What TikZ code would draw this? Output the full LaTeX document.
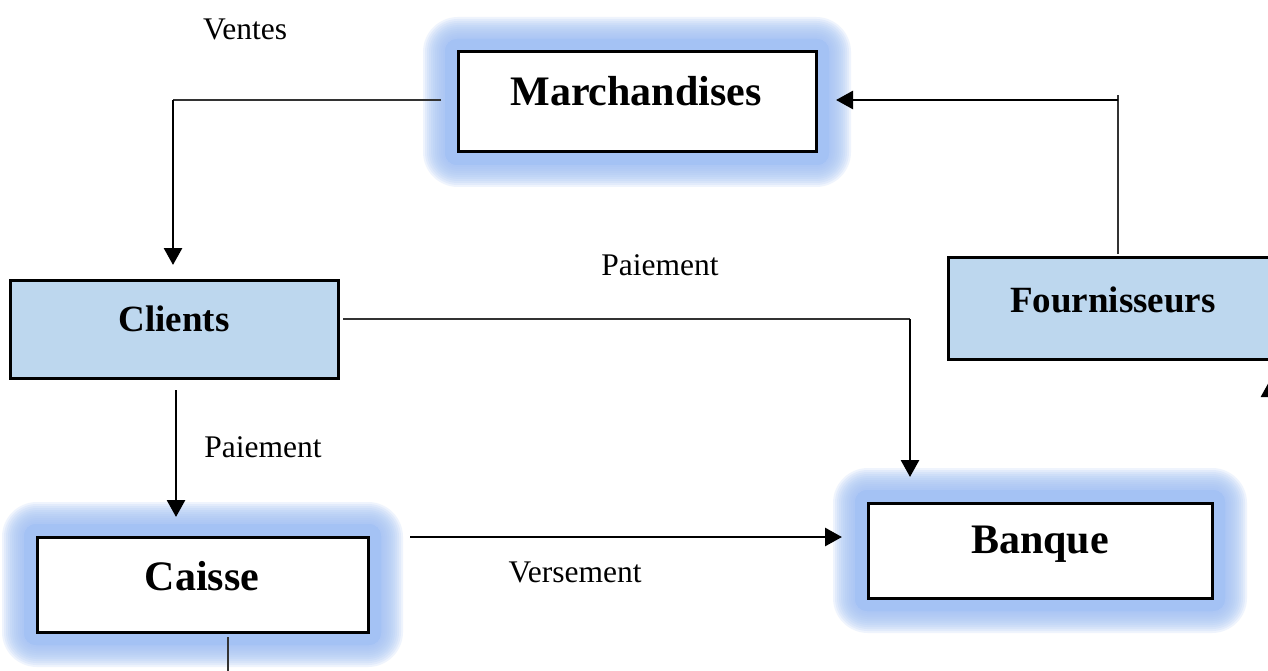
\documentclass[tikz,border=0pt]{standalone}
\usepackage{fontspec}
\setmainfont{Liberation Serif}
\usetikzlibrary{arrows.meta}

\definecolor{haloblue}{RGB}{164,194,244}
\definecolor{paleblue}{RGB}{189,215,238}

\tikzset{
  thinline/.style={line width=1.4pt, draw=black!80},
  flowarrow/.style={line width=2.8pt, -{Triangle[length=17pt,width=18pt]}},
  framebox/.style={draw=black, line width=3pt, inner sep=0pt},
  whitebox/.style={framebox, fill=white},
  bluebox/.style={framebox, fill=paleblue},
  bigtitle/.style={anchor=base, inner sep=0pt, font=\fontsize{42}{50}\selectfont\bfseries},
  midtitle/.style={anchor=base, inner sep=0pt, font=\fontsize{37}{44}\selectfont\bfseries},
  flowlabel/.style={anchor=base, inner sep=0pt, font=\fontsize{31.5}{38}\selectfont},
}

% soft blue halo around a box given by its corners (x1,y1) (x2,y2)
\newcommand\haloframe[4]{%
  \fill[haloblue, rounded corners=12pt] ({#1-13},{#2-13}) rectangle ({#3+13},{#4+13});
  \foreach \k in {35,33,...,13}{%
    \fill[haloblue, opacity=0.17, rounded corners=\k pt]
      ({#1-\k},{#2-\k}) rectangle ({#3+\k},{#4+\k});
  }%
}

\begin{document}
\begin{tikzpicture}[x=1pt, y=-1pt]
  \clip (0,0) rectangle (1268,671);
  \fill[white] (0,0) rectangle (1268,671);

  % halos
  \haloframe{458}{52}{816}{152}
  \haloframe{37}{537}{368}{632}
  \haloframe{868}{503}{1212}{598}

  % boxes
  \node[whitebox, minimum width=358pt, minimum height=100pt] (march) at (637,102) {};
  \node[bluebox, minimum width=328pt, minimum height=98pt] (clients) at (174,329) {};
  \node[whitebox, minimum width=331pt, minimum height=95pt] (caisse) at (202.5,584.5) {};
  \node[whitebox, minimum width=344pt, minimum height=95pt] (banque) at (1040,550.5) {};
  \node[bluebox, minimum width=342pt, minimum height=102pt] (fourn) at (1119,308) {};

  % box titles
  \node[bigtitle] (tmarch) at (636,106) {Marchandises};
  \node[midtitle] (tclients) at (174,331) {Clients};
  \node[midtitle] (tfourn) at (1113,312) {Fournisseurs};
  \node[bigtitle] (tcaisse) at (202,590) {Caisse};
  \node[bigtitle] (tbanque) at (1040,553) {Banque};

  % flow labels
  \node[flowlabel] (lventes) at (245,40) {Ventes};
  \node[flowlabel] (lpaie1) at (660,275) {Paiement};
  \node[flowlabel] (lpaie2) at (263,457) {Paiement};
  \node[flowlabel] (lverse) at (575,582) {Versement};

  % connector end points
  \coordinate (ventesA) at (441,100);
  \coordinate (ventesB) at (173,100);
  \coordinate (ventesC) at (173,265);
  \coordinate (fournA) at (1118,254);
  \coordinate (fournB) at (1118,95);
  \coordinate (fournC) at (1118,100);
  \coordinate (fournD) at (836,100);
  \coordinate (paieA) at (343,319);
  \coordinate (paieB) at (910,319);
  \coordinate (paieC) at (910,477);
  \coordinate (cliA) at (176,390);
  \coordinate (cliB) at (176,517);
  \coordinate (versA) at (410,537);
  \coordinate (versB) at (842,537);
  \coordinate (caisA) at (228,637);
  \coordinate (caisB) at (228,680);
  \coordinate (edgeA) at (1270,700);
  \coordinate (edgeB) at (1270,380);

  % Marchandises -> Clients (ventes)
  \draw[thinline] (ventesA) -- (ventesB);
  \draw[flowarrow] (ventesB) -- (ventesC);

  % Fournisseurs -> Marchandises
  \draw[thinline] (fournA) -- (fournB);
  \draw[flowarrow] (fournC) -- (fournD);

  % Clients -> Banque (paiement)
  \draw[thinline] (paieA) -- (paieB);
  \draw[flowarrow] (paieB) -- (paieC);

  % Clients -> Caisse (paiement)
  \draw[flowarrow] (cliA) -- (cliB);

  % Caisse -> Banque (versement)
  \draw[flowarrow] (versA) -- (versB);

  % Caisse outflow
  \draw[thinline] (caisA) -- (caisB);

  % arrow at the right margin
  \draw[flowarrow] (edgeA) -- (edgeB);
\end{tikzpicture}
\end{document}
